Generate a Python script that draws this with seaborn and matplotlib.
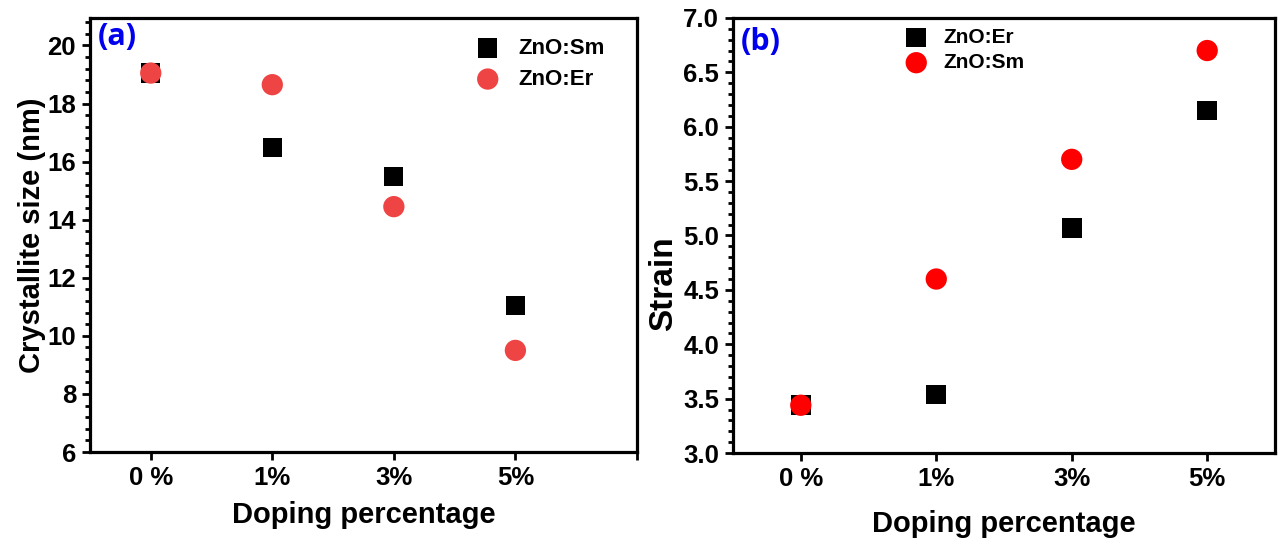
import matplotlib
matplotlib.use("Agg")
import matplotlib.pyplot as plt
import numpy as np
import pandas as pd
import seaborn as sns
from matplotlib.ticker import AutoMinorLocator, MultipleLocator

doping = ["0 %", "1%", "3%", "5%"]

size_sm = [19.05, 16.5, 15.5, 11.05]
size_er = [19.05, 18.65, 14.45, 9.5]

strain_er = [3.44, 3.54, 5.07, 6.15]
strain_sm = [3.44, 4.6, 5.7, 6.7]

sns.set_style("ticks")
plt.rcParams["font.family"] = ["Liberation Sans", "DejaVu Sans"]
plt.rcParams["font.weight"] = "bold"
plt.rcParams["text.color"] = "black"
plt.rcParams["axes.labelcolor"] = "black"
plt.rcParams["xtick.color"] = "black"
plt.rcParams["ytick.color"] = "black"

fig = plt.figure(figsize=(12.78, 5.42), dpi=100)
ax1 = fig.add_axes([0.0704, 0.166, 0.428, 0.801])
ax2 = fig.add_axes([0.5736, 0.164, 0.424, 0.803])

pos = np.arange(len(doping))


def style_axis(ax):
    for s in ax.spines.values():
        s.set_linewidth(2.3)
        s.set_color("black")
        s.set_visible(True)
    ax.tick_params(axis="both", which="major", direction="out", length=6, width=2,
                   labelsize=18.5, pad=4, colors="black")
    ax.tick_params(axis="y", which="minor", direction="out", length=3.5, width=2,
                   colors="black")
    ax.tick_params(axis="x", which="minor", bottom=False)
    for lbl in ax.get_xticklabels() + ax.get_yticklabels():
        lbl.set_fontweight("bold")


# panel (a)
df_a = pd.DataFrame({"x": pos, "Sm": size_sm, "Er": size_er})
sns.scatterplot(data=df_a, x="x", y="Sm", ax=ax1, marker="s", s=190, color="black",
                edgecolor="none", label="ZnO:Sm", zorder=3)
sns.scatterplot(data=df_a, x="x", y="Er", ax=ax1, marker="o", s=235, color="#EF4444",
                edgecolor="none", label="ZnO:Er", zorder=4)
ax1.set_xlim(-0.5, 4.0)
ax1.set_ylim(6, 20.95)
ax1.set_xticks(list(pos) + [4])
ax1.set_xticklabels(doping + [""])
ax1.yaxis.set_major_locator(MultipleLocator(2))
ax1.yaxis.set_minor_locator(AutoMinorLocator(5))
ax1.set_xlabel("Doping percentage", fontsize=21, fontweight="bold", labelpad=8)
ax1.set_ylabel("Crystallite size (nm)", fontsize=21, fontweight="bold")
ax1.yaxis.set_label_coords(-0.08, 0.5)
style_axis(ax1)
ax1.legend(loc="upper left", bbox_to_anchor=(0.65, 1.0), frameon=False,
           prop={"weight": "bold", "size": 16}, handletextpad=0.4,
           labelspacing=0.45, markerscale=1.0)
ax1.text(0.015, 0.955, "(a)", transform=ax1.transAxes, fontsize=22, fontweight="bold",
         color="#0000EE", family=["Open Sans", "DejaVu Sans"], va="center", ha="left")

# panel (b)
df_b = pd.DataFrame({"x": pos, "Er": strain_er, "Sm": strain_sm})
sns.scatterplot(data=df_b, x="x", y="Er", ax=ax2, marker="s", s=200, color="black",
                edgecolor="none", label="ZnO:Er", zorder=3)
sns.scatterplot(data=df_b, x="x", y="Sm", ax=ax2, marker="o", s=235, color="#FF0000",
                edgecolor="none", label="ZnO:Sm", zorder=4)
ax2.set_xlim(-0.5, 3.5)
ax2.set_ylim(3.0, 7.0)
ax2.set_xticks(pos)
ax2.set_xticklabels(doping)
ax2.yaxis.set_major_locator(MultipleLocator(0.5))
ax2.yaxis.set_minor_locator(AutoMinorLocator(5))
ax2.set_xlabel("Doping percentage", fontsize=21, fontweight="bold", labelpad=14)
ax2.set_ylabel("Strain", fontsize=24, fontweight="bold")
ax2.yaxis.set_label_coords(-0.10, 0.39)
style_axis(ax2)
ax2.legend(loc="upper left", bbox_to_anchor=(0.265, 1.02), frameon=False,
           prop={"weight": "bold", "size": 15}, handletextpad=0.3,
           labelspacing=0.3, markerscale=1.0)
ax2.text(0.015, 0.945, "(b)", transform=ax2.transAxes, fontsize=22, fontweight="bold",
         color="#0000EE", family=["Open Sans", "DejaVu Sans"], va="center", ha="left")

fig.savefig("out.png", dpi=100)
